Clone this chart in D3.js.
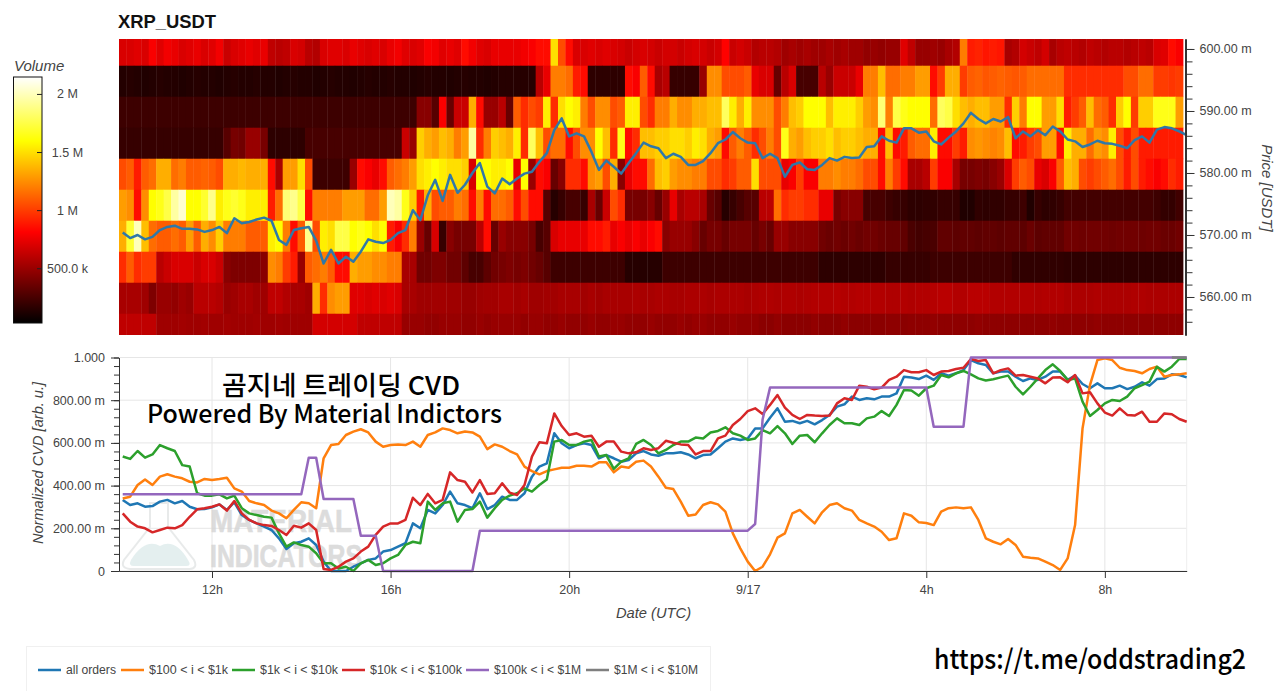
<!DOCTYPE html>
<html>
<head>
<meta charset="utf-8">
<title>XRP_USDT</title>
<script src="https://cdn.jsdelivr.net/npm/d3@7"></script>
<style>
    html, body { margin: 0; padding: 0; background: #fff; }
    svg { display: block; }
    text { font-family: "Liberation Sans", Helvetica, Arial, sans-serif; fill: #444; }
</style>
</head>
<body>
<svg id="chart" width="1280" height="691"></svg>
<script>
// volume per price bucket (millions), one value for each 10 minute column, top bucket first
const vol597 = [
    .7,.7,.72,.7,.8,.72,.78,.75,.7,.72,.75,.7,.72,.78,.65,.7,.72,.75,.72,.75,
    .62,.6,.62,.7,.68,.6,.58,.7,.72,.72,.7,.75,.72,.7,.72,.7,.75,.78,.72,.7,
    .72,.8,.78,.72,.75,.72,.85,.78,.72,.7,.75,.75,.75,.75,.78,.8,.85,.85,1.5,1.05,
    .85,.7,.7,.72,.7,.72,.7,.68,.65,.68,.7,.68,.65,.68,.68,.65,.68,.7,.68,.65,
    .68,.82,.65,.68,.65,.58,.6,.6,.58,.52,.55,.52,.55,.52,.52,.55,.52,.55,.52,.52,
    .48,.5,.48,.5,.5,.72,.62,.5,.5,.52,.5,.55,.58,1.2,.9,.92,.88,.9,.88,.55,
    .58,.68,.65,.62,.68,.55,.6,.62,.6,.58,.62,.6,.58,.6,.6,.58,.6,.62,.6,.7,
    .72,.85,.8
];
const vol592 = [
    .14,.15,.14,.13,.14,.15,.14,.14,.13,.14,.15,.14,.14,.13,.14,.15,.14,.14,.15,.14,
    .14,.13,.14,.15,.14,.14,.13,.14,.15,.14,.14,.13,.14,.15,.14,.14,.15,.14,.14,.13,
    .14,.15,.14,.14,.13,.14,.15,.14,.14,.13,.14,.15,.15,.15,.15,.15,.6,.75,1.2,1.2,
    1.15,.9,.85,.17,.17,.17,.17,.17,.85,.8,1.1,.85,.55,.6,.2,.2,.2,.2,.5,1.25,
    1.25,1.05,1.05,1.05,1.1,.75,.7,.7,.35,.6,.7,.25,.25,.25,.6,.5,.65,.65,.65,.75,
    1.2,1.2,1.4,1.15,1.15,1.2,1.2,1.3,1.3,.85,1.0,1.35,1.35,1.0,1.1,1.12,1.08,1.1,1.12,1.1,
    1.08,1.1,1.15,1.15,1.15,1.15,1.15,.95,.95,.95,.95,.95,.95,.95,.95,1.05,1.05,1.15,1.15,1.0,
    1.0,.98,1.0
];
const vol587 = [
    .22,.22,.22,.22,.22,.22,.22,.22,.22,.22,.22,.22,.22,.22,.22,.22,.22,.22,.22,.22,
    .22,.22,.22,.22,.22,.22,.22,.22,.22,.22,.22,.22,.22,.22,.22,.22,.22,.22,.22,.22,
    .45,.45,.3,.8,.35,.65,.65,1.35,.85,.5,.5,.6,.35,1.1,.95,1.05,1.0,1.55,.95,1.5,
    1.6,1.55,1.2,1.05,1.25,1.25,1.05,1.1,1.55,1.55,1.05,.95,1.2,1.2,1.35,1.25,1.25,1.35,1.35,1.4,
    1.4,1.8,1.55,1.35,1.55,1.25,1.25,1.25,1.05,1.2,1.4,1.45,1.6,1.6,1.6,1.4,1.55,1.55,1.55,1.45,
    1.3,1.25,1.85,1.2,1.75,1.65,1.6,1.6,1.6,1.15,1.8,1.75,1.5,1.4,1.35,1.4,1.4,1.3,1.3,.95,
    1.45,1.2,1.6,1.6,1.3,1.3,1.5,.9,1.0,1.1,1.4,1.15,1.1,.95,1.45,1.6,1.0,1.45,1.45,1.65,
    1.65,1.65,1.3
];
const vol582 = [
    .2,.2,.2,.2,.2,.2,.2,.2,.2,.2,.2,.2,.2,.2,.3,.4,.38,.5,.5,.4,
    .17,.17,.17,.17,.17,.25,.25,.25,.25,.25,.25,.25,.25,.25,.25,.25,.25,.25,.65,.5,
    1.45,1.35,1.3,1.4,1.35,1.2,1.3,1.95,.95,1.2,1.45,1.4,1.35,1.55,.95,1.8,1.4,1.05,1.15,1.15,
    .85,1.05,1.25,1.25,1.6,1.4,.95,1.65,.85,.95,1.4,1.4,1.45,1.45,1.5,1.5,1.45,1.55,1.5,1.35,
    1.3,.85,1.1,1.2,1.1,.95,1.05,1.2,1.05,1.65,1.35,1.3,1.4,1.45,1.45,1.5,1.4,1.45,1.45,1.4,
    1.35,1.35,.85,1.4,.85,.9,1.1,1.15,1.15,1.55,.85,.85,1.0,.9,1.25,1.28,1.25,1.22,1.25,1.4,
    .85,.9,1.0,1.05,1.3,1.3,.85,1.55,1.35,1.35,1.15,1.3,1.25,1.55,1.05,.9,1.05,.9,.9,.9,
    .9,.9,.9
];
const vol577 = [
    1.05,1.1,.9,1.1,1.15,1.35,1.35,1.15,1.2,1.1,1.1,1.12,1.1,1.05,1.35,1.35,1.38,1.35,1.35,1.35,
    .85,.55,1.3,1.3,1.5,1.05,.22,.22,.22,.22,.22,.5,.85,.8,.75,.85,1.1,1.15,1.2,1.3,
    1.5,1.55,1.6,1.55,1.5,1.5,1.45,.7,1.6,1.6,1.55,1.55,1.6,.75,1.6,.5,.85,.8,.35,.45,
    .95,.95,.85,1.25,1.3,1.05,1.35,.45,.75,.85,.85,1.15,1.4,1.45,1.3,1.25,1.25,1.2,1.2,1.05,
    1.05,.95,1.0,1.1,1.1,1.5,1.05,1.05,1.05,.75,.8,1.0,.8,.8,1.2,1.2,1.25,1.2,1.2,1.15,
    1.05,1.05,.85,1.2,1.0,.85,.55,.55,.6,1.0,.8,.8,.55,.4,.4,.42,.4,.45,.5,.7,
    1.0,1.1,1.05,.75,.7,.8,1.1,1.4,1.35,1.05,1.0,1.05,1.1,1.15,1.05,.9,1.05,.9,.85,.8,
    .85,.95,.9
];
const vol572 = [
    1.3,1.25,.85,1.25,1.6,1.65,1.75,1.95,2.05,1.6,1.6,1.7,1.9,1.55,1.65,1.7,1.65,1.55,1.55,1.55,
    .9,1.15,1.85,1.9,1.75,.85,1.2,1.2,1.2,1.2,1.3,1.3,1.3,1.15,1.15,1.3,2.0,1.95,1.65,1.45,
    .9,1.35,1.05,1.1,1.1,1.2,1.15,.85,1.2,.85,1.15,1.15,1.1,.85,1.05,.85,.85,.3,.15,.2,
    .25,.25,.2,.55,.35,.65,1.05,.95,.4,.4,.4,.45,.35,.5,.75,.55,.6,.6,.55,.35,
    .3,.15,.2,.25,.3,.3,.6,.6,1.15,.95,1.0,1.0,.95,.95,.75,.75,.4,.45,.45,.45,
    .25,.25,.25,.22,.2,.2,.17,.17,.18,.18,.2,.2,.2,.13,.13,.18,.17,.18,.18,.2,
    .2,.22,.13,.2,.17,.18,.2,.24,.24,.24,.24,.24,.24,.24,.24,.24,.24,.24,.24,.22,
    .19,.19,.23
];
const vol567 = [
    1.35,1.7,2.0,1.4,1.15,1.1,1.1,1.15,1.1,1.3,1.1,1.35,1.25,1.45,1.2,1.2,1.2,1.1,1.1,1.1,
    1.55,1.6,1.2,.85,1.1,1.9,1.05,1.55,1.5,1.75,1.75,1.6,1.65,1.6,1.5,1.6,.9,.8,.95,1.2,
    .5,.35,.7,.2,.45,.4,.4,.4,.6,.85,.35,.5,.45,.45,.45,.4,.25,.3,.7,.75,
    .75,.75,.75,.85,.85,.9,.75,.8,.75,.8,.75,.8,.85,.45,.5,.5,.5,.45,.35,.4,
    .4,.35,.4,.4,.4,.35,.4,.35,.5,.5,.45,.45,.45,.45,.38,.36,.38,.36,.38,.36,
    .38,.38,.36,.35,.35,.33,.26,.24,.25,.26,.33,.33,.32,.33,.33,.32,.33,.33,.32,.33,
    .33,.32,.36,.32,.33,.33,.33,.38,.38,.37,.38,.38,.38,.37,.38,.38,.38,.37,.38,.38,
    .36,.36,.38
];
const vol562 = [
    .95,1.1,.95,1.0,1.0,.6,.65,.7,.7,.7,.65,.7,.7,.65,.45,.42,.42,.42,.42,.45,
    1.25,1.2,1.0,.9,.5,1.1,1.15,1.2,1.1,.85,.85,1.35,1.3,1.3,1.25,1.25,1.2,1.2,.55,.55,
    .38,.38,.42,.42,.38,.38,.32,.25,.25,.32,.38,.4,.42,.4,.42,.38,.35,.3,.22,.22,
    .22,.22,.22,.22,.22,.22,.22,.22,.15,.15,.15,.15,.15,.22,.22,.22,.22,.22,.22,.22,
    .22,.22,.22,.22,.22,.22,.22,.22,.22,.22,.22,.22,.22,.22,.17,.17,.17,.17,.17,.17,
    .17,.17,.17,.2,.2,.2,.2,.2,.2,.22,.22,.22,.22,.22,.22,.22,.22,.22,.22,.22,
    .18,.18,.18,.18,.18,.18,.18,.17,.17,.17,.17,.17,.17,.17,.17,.17,.17,.17,.17,.17,
    .17,.17,.17
];
const vol557 = [
    .55,.55,.55,.52,.42,.5,.5,.48,.52,.5,.6,.6,.6,.58,.5,.52,.55,.55,.52,.52,
    .62,.62,.58,.55,.55,.52,1.35,.95,1.25,1.3,1.3,.72,.72,.7,.72,.7,.72,.7,.55,.55,
    .52,.52,.53,.53,.52,.52,.5,.5,.52,.53,.53,.55,.55,.53,.55,.52,.52,.53,.53,.55,
    .55,.55,.53,.55,.53,.55,.55,.55,.55,.56,.55,.55,.56,.56,.55,.55,.56,.56,.56,.55,
    .56,.56,.56,.56,.55,.56,.57,.57,.56,.57,.57,.56,.57,.58,.58,.58,.59,.58,.58,.59,
    .59,.58,.58,.57,.57,.58,.57,.58,.58,.59,.6,.6,.58,.58,.6,.6,.6,.58,.58,.58,
    .58,.58,.58,.57,.58,.58,.58,.56,.56,.56,.56,.57,.56,.56,.56,.56,.57,.57,.56,.56,
    .56,.56,.56
];
const vol552 = [
    .62,.62,.62,.62,.62,.52,.52,.52,.53,.52,.52,.53,.52,.52,.53,.52,.52,.52,.53,.52,
    .52,.53,.52,.52,.52,.52,.68,.68,.68,.68,.68,.68,.62,.62,.62,.62,.62,.62,.5,.5,
    .5,.48,.48,.5,.5,.5,.48,.48,.5,.48,.5,.5,.5,.5,.48,.5,.5,.48,.48,.5,
    .48,.48,.48,.5,.48,.48,.5,.5,.48,.48,.48,.5,.48,.48,.48,.5,.48,.5,.5,.48,
    .48,.48,.5,.48,.48,.48,.46,.46,.48,.46,.46,.46,.46,.48,.46,.46,.46,.48,.46,.46,
    .46,.46,.46,.47,.47,.46,.47,.47,.47,.48,.47,.47,.47,.47,.47,.48,.47,.47,.47,.47,
    .47,.47,.47,.47,.47,.48,.47,.47,.47,.47,.47,.48,.47,.47,.47,.47,.47,.47,.47,.47,
    .47,.47,.47
];
const volumeRows = [vol597, vol592, vol587, vol582, vol577, vol572, vol567, vol562, vol557, vol552];
const bucketLow = [597.3, 592.3, 587.3, 582.3, 577.3, 572.3, 567.3, 562.3, 557.3, 552.3];

// mid price, one value every 10 minutes
const price = [
    570.4,569.5,570.0,569.3,569.7,570.8,571.3,571.5,571.0,571.0,570.9,570.5,570.8,571.3,570.3,572.7,571.9,572.1,572.5,572.8,
    572.3,569.2,568.4,570.8,571.1,571.3,569.1,565.4,567.6,565.4,566.5,565.7,567.3,569.3,568.9,568.7,569.2,570.3,570.8,574.0,
    572.4,576.4,578.9,575.5,579.7,576.8,578.1,580.0,581.6,577.8,576.7,579.1,578.2,579.1,579.9,580.2,581.8,583.2,586.9,588.8,
    585.9,586.4,585.9,583.4,580.5,582.0,581.0,579.9,581.6,583.2,584.9,584.3,584.0,582.4,583.1,582.6,581.3,581.3,581.9,583.2,
    584.8,585.4,586.6,585.6,584.9,584.8,582.4,583.1,582.4,579.4,581.3,581.7,580.6,580.5,581.3,582.4,582.0,582.6,582.4,582.5,
    584.2,584.3,585.9,585.2,584.9,587.2,587.2,586.5,586.7,585.1,584.6,585.7,586.7,588.0,589.7,588.7,588.0,588.7,588.3,589.0,
    585.6,586.7,585.9,586.9,586.1,587.5,586.7,585.4,585.1,584.2,584.6,585.2,584.8,584.7,584.4,584.0,585.3,585.9,584.9,587.0,
    587.4,587.2,586.7,586.1
];

// normalized CVD per order size, same 10 minute steps
const cvdAll = [
    .333,.309,.317,.301,.304,.325,.333,.317,.328,.301,.289,.290,.298,.312,.286,.322,.262,.239,.223,.208,
    .192,.153,.103,.130,.137,.153,.122,.044,0,0,0,.020,.036,.052,.059,.091,.098,.114,.130,.223,
    .200,.286,.270,.309,.372,.317,.309,.294,.364,.290,.309,.348,.333,.333,.364,.442,.489,.504,.645,.598,
    .575,.590,.598,.590,.528,.543,.528,.512,.520,.551,.562,.546,.540,.551,.551,.556,.546,.528,.543,.546,
    .575,.606,.621,.614,.621,.668,.668,.718,.762,.699,.703,.692,.703,.687,.707,.731,.770,.781,.817,.801,
    .809,.804,.817,.817,.832,.910,.906,.899,.915,.895,.926,.915,.926,.941,.988,.973,.965,.926,.934,.934,
    .910,.890,.902,.895,.910,.934,.934,.895,.915,.876,.856,.879,.856,.856,.868,.852,.863,.884,.868,.899,
    .902,.921,.918,.907
];
const cvd100to1k = [
    .340,.348,.403,.429,.403,.442,.453,.442,.434,.418,.415,.431,.426,.431,.437,.387,.372,.328,.317,.309,
    .283,.270,.247,.286,.322,.317,.294,.528,.590,.595,.637,.653,.664,.649,.606,.582,.590,.593,.590,.606,
    .582,.637,.649,.668,.660,.645,.653,.649,.629,.571,.593,.582,.562,.546,.489,.468,.453,.468,.476,.484,
    .484,.493,.493,.489,.509,.509,.462,.489,.484,.512,.517,.489,.442,.390,.384,.325,.259,.265,.309,.322,
    .312,.278,.176,.106,.044,0,.020,.078,.156,.176,.270,.286,.254,.223,.275,.309,.317,.294,.283,.239,
    .223,.208,.184,.145,.153,.270,.259,.228,.225,.215,.278,.294,.298,.294,.298,.239,.153,.137,.125,.150,
    .122,.067,.062,.059,.044,.028,.005,.059,.215,.668,.871,.988,.996,.988,.952,.941,.937,.926,.946,.957,
    .910,.918,.921,.926
];
const cvd1kto10k = [
    .536,.525,.562,.531,.546,.590,.575,.562,.496,.489,.364,.353,.353,.359,.340,.353,.294,.270,.262,.254,
    .250,.176,.114,.134,.122,.114,.083,.036,.036,.012,.020,0,.036,.052,.028,.036,.059,.075,.122,.137,
    .130,.325,.286,.317,.325,.231,.286,.290,.325,.250,.294,.333,.353,.364,.387,.372,.403,.429,.606,.614,
    .590,.590,.606,.614,.536,.543,.478,.512,.528,.595,.614,.590,.551,.567,.590,.606,.606,.625,.621,.649,
    .656,.673,.645,.634,.614,.621,.660,.645,.679,.645,.595,.634,.637,.603,.645,.684,.715,.692,.692,.684,
    .715,.723,.749,.726,.778,.848,.845,.821,.856,.868,.918,.907,.926,.937,.921,.902,.892,.898,.907,.915,
    .863,.827,.863,.902,.941,.968,.937,.895,.902,.793,.726,.754,.785,.801,.796,.817,.856,.871,.887,.957,
    .934,.957,.993,.993
];
const cvd10kto100k = [
    .270,.231,.208,.200,.181,.192,.203,.200,.215,.254,.289,.294,.301,.312,.283,.328,.270,.239,.223,.215,
    .211,.192,.169,.212,.203,.223,.192,.009,.005,.020,.044,.059,.091,.114,.169,.208,.223,.223,.239,.343,
    .309,.361,.317,.333,.462,.426,.418,.368,.426,.361,.364,.411,.367,.356,.403,.536,.603,.598,.738,.679,
    .637,.645,.629,.634,.582,.606,.606,.559,.551,.556,.575,.567,.575,.610,.601,.593,.590,.546,.562,.562,
    .621,.634,.684,.712,.749,.762,.735,.778,.824,.765,.731,.712,.731,.728,.726,.728,.785,.809,.801,.868,
    .863,.851,.859,.895,.910,.941,.931,.931,.941,.918,.934,.937,.946,.952,.993,.984,.988,.926,.941,.949,
    .915,.918,.910,.902,.879,.906,.907,.884,.918,.832,.837,.785,.742,.728,.762,.731,.728,.746,.699,.699,
    .738,.734,.712,.699
];
const cvd100kto1M = [
    .36,.36,.36,.36,.36,.36,.36,.36,.36,.36,.36,.36,.36,.36,.36,.36,.36,.36,.36,.36,
    .36,.36,.36,.36,.36,.53,.53,.337,.337,.337,.337,.337,.165,.165,.165,0,0,0,0,0,
    0,0,0,0,0,0,0,0,.189,.189,.189,.189,.189,.189,.189,.189,.189,.189,.189,.189,
    .189,.189,.189,.189,.189,.189,.189,.189,.189,.189,.189,.189,.189,.189,.189,.189,.189,.189,.189,.189,
    .189,.189,.189,.189,.189,.22,.71,.859,.859,.859,.859,.859,.859,.859,.859,.859,.859,.859,.859,.859,
    .859,.859,.859,.859,.859,.859,.859,.859,.859,.676,.676,.676,.676,.676,1,1,1,1,1,1,
    1,1,1,1,1,1,1,1,1,1,1,1,1,1,1,1,1,1,1,1,
    1,1,1,1
];
const cvd1Mto10M = [
    null,null,null,null,null,null,null,null,null,null,null,null,null,null,null,null,null,null,null,null,
    null,null,null,null,null,null,null,null,null,null,null,null,null,null,null,null,null,null,null,null,
    null,null,null,null,null,null,null,null,null,null,null,null,null,null,null,null,null,null,null,null,
    null,null,null,null,null,null,null,null,null,null,null,null,null,null,null,null,null,null,null,null,
    null,null,null,null,null,null,null,null,null,null,null,null,null,null,null,null,null,null,null,null,
    null,null,null,null,null,null,null,null,null,null,null,null,null,null,null,null,null,null,null,null,
    null,null,null,null,null,null,null,null,null,null,null,null,null,null,null,null,null,null,null,null,
    null,1,1,1
];
const cvdSeries = [cvdAll, cvd100to1k, cvd1kto10k, cvd10kto100k, cvd100kto1M, cvd1Mto10M];
const legendLabels = ['all orders', '$100 < i < $1k', '$1k < i < $10k', '$10k < i < $100k', '$100k < i < $1M', '$1M < i < $10M'];
const palette = ['#1f77b4', '#ff7f0e', '#2ca02c', '#d62728', '#9467bd', '#7f7f7f'];

// tick labels
const dateTicks = ['12h', '16h', '20h', '9/17', '4h', '8h'];
const dateTickHours = [12, 16, 20, 24, 28, 32];
const priceTicks = [560, 570, 580, 590, 600];
const cvdTicks = [0, .2, .4, .6, .8, 1];
const cvdTickLabels = ['0', '200.00 m', '400.00 m', '600.00 m', '800.00 m', '1.000'];
const volumeTicks = [.5, 1, 1.5, 2];
const volumeTickLabels = ['500.0 k', '1 M', '1.5 M', '2 M'];

const svg = d3.select('#chart');
const stepMs = 10 * 60 * 1000;
const t0 = Date.UTC(2018, 8, 16, 9, 55);
const firstPoint = t0 + 5 * 60 * 1000;

const left = 119, right = 1186.7,
    heatTop = 39, heatBottom = 335,
    cvdTop = 357.5, cvdBottom = 571;

const x = d3.scaleUtc()
    .domain([new Date(t0), new Date(firstPoint + 143 * stepMs)])
    .range([left, right]);
const yPrice = d3.scaleLinear().domain([553.87, 601.61]).range([heatBottom, heatTop]);
const yCvd = d3.scaleLinear().domain([0, 1]).range([cvdBottom, cvdTop]);

// hot palette, black through red and yellow to white
const volMin = .033, volMax = 2.15;
const color = d3.scaleLinear()
    .domain([volMin, volMin + .37 * (volMax - volMin), volMin + .74 * (volMax - volMin), volMax])
    .range(['#000000', '#ff0000', '#ffff00', '#ffffff'])
    .clamp(true);

const defs = svg.append('defs');
defs.append('clipPath').attr('id', 'heat-clip')
    .append('rect')
    .attr('x', left).attr('y', heatTop)
    .attr('width', right - left).attr('height', heatBottom - heatTop);

// Title
svg.append('text')
    .attr('x', 118).attr('y', 28)
    .style('font-size', '18.4px').style('font-weight', 'bold').style('fill', '#111')
    .text('XRP_USDT');

// Heatmap
const heat = svg.append('g').attr('clip-path', 'url(#heat-clip)');
volumeRows.forEach(function (row, r) {
    heat.selectAll(null)
        .data(row)
        .enter().append('rect')
        .attr('x', (d, i) => x(new Date(t0 + i * stepMs)))
        .attr('y', yPrice(bucketLow[r] + 5))
        .attr('width', (d, i) => x(new Date(t0 + (i + 1) * stepMs)) - x(new Date(t0 + i * stepMs)) + .4)
        .attr('height', yPrice(bucketLow[r]) - yPrice(bucketLow[r] + 5) + .4)
        .attr('fill', d => color(d));
});

const pointTime = (d, j) => new Date(firstPoint + j * stepMs);

svg.append('path')
    .datum(price)
    .attr('fill', 'none')
    .attr('stroke', '#2f78a8')
    .attr('stroke-width', 2.5)
    .attr('stroke-linejoin', 'round')
    .attr('d', d3.line().x((d, j) => x(pointTime(d, j))).y(d => yPrice(d)));

// Price axis on the right
const styleAxis = function (g) {
    g.selectAll('path.domain').attr('stroke', '#333');
    g.selectAll('.tick line').attr('stroke', '#333');
    g.selectAll('text').style('font-size', '12.5px').style('fill', '#444')
        .style('font-family', '"Liberation Sans", Helvetica, Arial, sans-serif');
};

svg.append('g')
    .attr('transform', 'translate(1185.5,0)')
    .call(d3.axisRight(yPrice).tickValues(d3.range(556, 602, 2)).tickSize(7).tickSizeOuter(0).tickFormat(''))
    .call(styleAxis)
    .call(g => g.select('path.domain').attr('stroke-width', 2));
svg.append('g')
    .attr('transform', 'translate(1185.5,0)')
    .call(d3.axisRight(yPrice).tickValues(priceTicks).tickSize(9).tickSizeOuter(0).tickPadding(5)
        .tickFormat(d => d.toFixed(2) + ' m'))
    .call(styleAxis)
    .call(g => g.select('path.domain').attr('stroke-width', 2));

svg.append('text')
    .attr('transform', 'translate(1262,188) rotate(90)')
    .attr('text-anchor', 'middle')
    .style('font-size', '15px').style('font-style', 'italic')
    .text('Price [USDT]');

// Colour bar
const yVolume = d3.scaleLinear().domain([volMin, volMax]).range([323, 77]);
const barGradient = defs.append('linearGradient')
    .attr('id', 'volume-gradient')
    .attr('x1', 0).attr('x2', 0).attr('y1', 1).attr('y2', 0);
color.domain().forEach(function (v) {
    barGradient.append('stop')
        .attr('offset', (v - volMin) / (volMax - volMin))
        .attr('stop-color', color(v));
});
svg.append('rect')
    .attr('x', 13.5).attr('y', 77)
    .attr('width', 28.5).attr('height', 246)
    .attr('fill', 'url(#volume-gradient)')
    .attr('stroke', '#111')
    .attr('stroke-width', 1);
svg.append('text')
    .attr('x', 14).attr('y', 71)
    .style('font-size', '15px').style('font-style', 'italic')
    .text('Volume');
svg.selectAll('.volume-tick')
    .data(volumeTicks)
    .enter().append('line')
    .attr('class', 'volume-tick')
    .attr('x1', 37).attr('x2', 42)
    .attr('y1', d => yVolume(d)).attr('y2', d => yVolume(d))
    .attr('stroke', '#222');
svg.selectAll('.volume-label')
    .data(volumeTicks)
    .enter().append('text')
    .attr('class', 'volume-label')
    .attr('x', 67.5)
    .attr('y', d => yVolume(d) + 4)
    .attr('text-anchor', 'middle')
    .style('font-size', '12.5px')
    .text((d, i) => volumeTickLabels[i]);

// CVD panel grid
const dateValues = dateTickHours.map(h => new Date(Date.UTC(2018, 8, 16, h)));
const grid = svg.append('g');
grid.selectAll('.grid-y')
    .data(cvdTicks)
    .enter().append('line')
    .attr('x1', left).attr('x2', right)
    .attr('y1', d => yCvd(d)).attr('y2', d => yCvd(d))
    .attr('stroke', '#e6e6e6');
grid.selectAll('.grid-x')
    .data(dateValues)
    .enter().append('line')
    .attr('x1', d => x(d)).attr('x2', d => x(d))
    .attr('y1', cvdTop).attr('y2', cvdBottom)
    .attr('stroke', '#e6e6e6');
grid.append('line')
    .attr('x1', right).attr('x2', right)
    .attr('y1', cvdTop).attr('y2', cvdBottom)
    .attr('stroke', '#eeeeee');

// Faint logo behind the lines
const logo = svg.append('g').attr('opacity', .8);
logo.append('path')
    .attr('d', 'M150,503 L150,527 L124,560 Q120,568 130,569 L190,569 Q198,568 194,560 L168,527 L168,503 Z')
    .attr('fill', 'none').attr('stroke', '#e3e6e6').attr('stroke-width', 2);
logo.append('path')
    .attr('d', 'M131,560 Q145,538 160,546 Q175,538 188,560 Q192,566 186,566 L134,566 Q128,566 131,560 Z')
    .attr('fill', '#deecec');
logo.append('text')
    .attr('x', 210).attr('y', 532)
    .attr('textLength', 142).attr('lengthAdjust', 'spacingAndGlyphs')
    .style('font-size', '31px').style('font-weight', 'bold').style('fill', '#d4d4d4')
    .style('stroke', '#d4d4d4').style('stroke-width', .6)
    .text('MATERIAL');
logo.append('text')
    .attr('x', 210).attr('y', 567)
    .attr('textLength', 152).attr('lengthAdjust', 'spacingAndGlyphs')
    .style('font-size', '31px').style('font-weight', 'bold').style('fill', '#d4d4d4')
    .style('stroke', '#d4d4d4').style('stroke-width', .6)
    .text('INDICATORS');

// CVD lines
const cvdLine = d3.line()
    .defined(d => d !== null)
    .x((d, j) => x(pointTime(d, j)))
    .y(d => yCvd(d));
cvdSeries.forEach(function (series, s) {
    svg.append('path')
        .datum(series)
        .attr('fill', 'none')
        .attr('stroke', palette[s])
        .attr('stroke-width', 2.5)
        .attr('stroke-linejoin', 'round')
        .attr('d', cvdLine);
});

// CVD axes
svg.append('g')
    .attr('transform', 'translate(119,0)')
    .call(d3.axisLeft(yCvd).tickValues(d3.range(0, 1.001, .04)).tickSize(5).tickSizeOuter(0).tickFormat(''))
    .call(styleAxis);
svg.append('g')
    .attr('transform', 'translate(119,0)')
    .call(d3.axisLeft(yCvd).tickValues(cvdTicks).tickSize(8).tickSizeOuter(0).tickPadding(6)
        .tickFormat((d, i) => cvdTickLabels[i]))
    .call(styleAxis);
svg.append('g')
    .attr('transform', 'translate(0,571)')
    .call(d3.axisBottom(x).tickValues(dateValues).tickSize(7).tickSizeOuter(0).tickPadding(7)
        .tickFormat((d, i) => dateTicks[i]))
    .call(styleAxis);

svg.append('text')
    .attr('transform', 'translate(43,463) rotate(-90)')
    .attr('text-anchor', 'middle')
    .style('font-size', '14.6px').style('font-style', 'italic')
    .text('Normalized CVD [arb. u.]');
svg.append('text')
    .attr('x', 653.5).attr('y', 618)
    .attr('text-anchor', 'middle')
    .style('font-size', '14.7px').style('font-style', 'italic')
    .text('Date (UTC)');

// Legend
svg.append('rect')
    .attr('x', 26.5).attr('y', 646.5)
    .attr('width', 684).attr('height', 50)
    .attr('fill', '#fff')
    .attr('stroke', '#f0f0f0');
const legendGlyphX = [38, 121, 232, 342, 466, 586];
const legendTextWidth = [50, 79, 78, 92, 87, 84];
legendLabels.forEach(function (label, s) {
    svg.append('line')
        .attr('x1', legendGlyphX[s]).attr('x2', legendGlyphX[s] + 23)
        .attr('y1', 670).attr('y2', 670)
        .attr('stroke', palette[s])
        .attr('stroke-width', 2.5);
    svg.append('text')
        .attr('x', legendGlyphX[s] + 28).attr('y', 674)
        .attr('textLength', legendTextWidth[s]).attr('lengthAdjust', 'spacingAndGlyphs')
        .style('font-size', '12px')
        .text(label);
});

// Text pasted over the chart
const overlayFont = '"Noto Sans CJK KR", "Noto Sans", sans-serif';
svg.append('text')
    .attr('x', 222).attr('y', 395)
    .attr('textLength', 238).attr('lengthAdjust', 'spacingAndGlyphs')
    .style('font-family', overlayFont).style('font-size', '26px').style('font-weight', 500).style('fill', '#000')
    .text('곰지네 트레이딩 CVD');
svg.append('text')
    .attr('x', 147).attr('y', 423)
    .attr('textLength', 355).attr('lengthAdjust', 'spacingAndGlyphs')
    .style('font-family', overlayFont).style('font-size', '25px').style('font-weight', 500).style('fill', '#000')
    .text('Powered By Material Indictors');
svg.append('text')
    .attr('x', 934).attr('y', 669)
    .attr('textLength', 312).attr('lengthAdjust', 'spacingAndGlyphs')
    .style('font-family', overlayFont).style('font-size', '27px').style('font-weight', 500).style('fill', '#000')
    .text('https://t.me/oddstrading2');
</script>
</body>
</html>
